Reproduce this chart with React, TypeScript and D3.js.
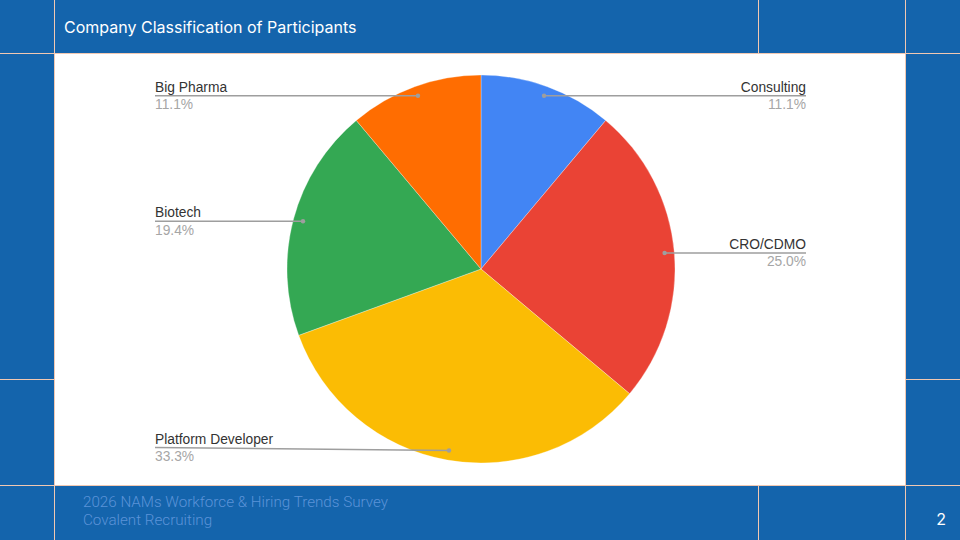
import React from "react";
import * as d3 from "d3";

const categories = ["Consulting", "CRO/CDMO", "Platform Developer", "Biotech", "Big Pharma"];
const values = [4, 9, 12, 7, 4];
const colors = ["#4285f4", "#ea4335", "#fbbc04", "#34a853", "#ff6d01"];
const titleText = "Company Classification of Participants";
const footerLines = ["2026 NAMs Workforce & Hiring Trends Survey", "Covalent Recruiting"];
const pageNumber = "2";

export default function App() {
  const W = 960, H = 540;
  const cx = 481, cy = 269, r = 194;
  const total = d3.sum(values);
  const pie = d3.pie<number>().sort(null).value((d) => d)(values);
  const arc = d3.arc<d3.PieArcDatum<number>>().innerRadius(0).outerRadius(r);
  const dotArc = d3.arc<d3.PieArcDatum<number>>().innerRadius(r * 0.95).outerRadius(r * 0.95);
  const fmt = d3.format(".1%");
  const leftX = 155, rightX = 806;
  const gridColor = "#f1c8b2";
  const bg = "#1464ac";

  return (
    <svg width={W} height={H} style={{ position: "absolute", left: 0, top: 0 }}>
      <rect x={0} y={0} width={W} height={H} fill={bg} />
      <rect x={55} y={54} width={850} height={431} fill="#ffffff" />
      <g stroke={gridColor} strokeWidth={1}>
        <line x1={54.5} y1={0} x2={54.5} y2={H} />
        <line x1={905.5} y1={0} x2={905.5} y2={H} />
        <line x1={758.5} y1={0} x2={758.5} y2={53} />
        <line x1={758.5} y1={486} x2={758.5} y2={H} />
        <line x1={0} y1={53.5} x2={W} y2={53.5} />
        <line x1={0} y1={485.5} x2={W} y2={485.5} />
        <line x1={0} y1={379.5} x2={54} y2={379.5} />
        <line x1={906} y1={379.5} x2={W} y2={379.5} />
      </g>
      <text x={64} y={33} fill="#ffffff" fontFamily="Inter, Roboto, sans-serif" fontSize={16}>
        {titleText}
      </text>
      {footerLines.map((t, i) => (
        <text key={t} x={83} y={507 + i * 18} fill="#5b93d8" fontFamily="Roboto, Inter, sans-serif" fontWeight={300} fontSize={15.2}>
          {t}
        </text>
      ))}
      <text x={946} y={525} textAnchor="end" fill="#ffffff" fontFamily="Inter, Roboto, sans-serif" fontSize={16}>
        {pageNumber}
      </text>
      <g transform={`translate(${cx},${cy})`}>
        {pie.map((d, i) => (
          <path key={categories[i]} d={arc(d) || ""} fill={colors[i]} stroke="#ffffff" strokeWidth={0.3} />
        ))}
      </g>
      {pie.map((d, i) => {
        const [dx, dy] = dotArc.centroid(d);
        const px = cx + dx, py = cy + dy;
        const mid = (d.startAngle + d.endAngle) / 2;
        const right = mid < Math.PI;
        const ly = py > 400 ? py - 3 : py;
        const tx = right ? rightX : leftX;
        const anchor = right ? "end" : "start";
        return (
          <g key={"lab" + i}>
            <line x1={px} y1={py} x2={tx} y2={ly} stroke="#9e9e9e" strokeWidth={1.5} />
            <circle cx={px} cy={py} r={2.2} fill="#9e9e9e" />
            <text x={tx} y={ly - 4} textAnchor={anchor} fill="#333333" fontFamily="'Liberation Sans', Arial, sans-serif" fontSize={13.8}>
              {categories[i]}
            </text>
            <text x={tx} y={ly + 13.5} textAnchor={anchor} fill="#a6a6a6" fontFamily="'Liberation Sans', Arial, sans-serif" fontSize={13.8}>
              {fmt(values[i] / total)}
            </text>
          </g>
        );
      })}
    </svg>
  );
}
